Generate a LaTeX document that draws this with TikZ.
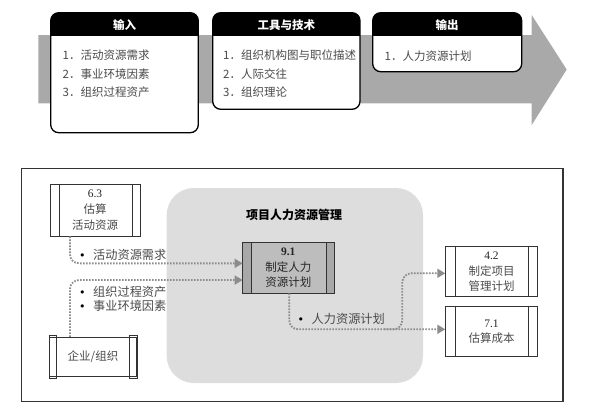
\documentclass[tikz,border=0pt]{standalone}
\usepackage{fontspec}
\setmainfont{Liberation Serif}
\newfontfamily\cjk{Noto Sans CJK SC}
\newfontfamily\sym{DejaVu Sans}
\usetikzlibrary{arrows.meta}
\definecolor{arrowgrey}{HTML}{A9A9A9}
\definecolor{regiongrey}{HTML}{DDDDDD}
\definecolor{linegrey}{HTML}{8C8C8C}
\definecolor{textgrey}{HTML}{4A4A4A}
\definecolor{procgrey}{HTML}{BDBDBD}
\definecolor{bargrey}{HTML}{A8A8A8}
\newcommand{\blt}{{\sym\fontsize{11}{13}\selectfont\textcolor{black}{•}}\hspace{7.5pt}}
\begin{document}
\begin{tikzpicture}[x=1pt,y=-1pt,
  topbox/.style={draw=black,line width=1.3pt,rounded corners=8pt},
  hdr/.style={text=white,font=\cjk\bfseries\fontsize{11.5}{13}\selectfont,inner sep=0pt},
  item/.style={text=textgrey,font=\cjk\fontsize{11.5}{13}\selectfont,inner sep=0pt,anchor=west},
  proc/.style={draw=black!80,line width=0.8pt,fill=white,inner sep=0pt,align=center,
     text=textgrey,font=\fontsize{11.5}{15.8}\selectfont},
  barline/.style={draw=black!80,line width=0.8pt},
  flow/.style={draw=linegrey,line width=1.8pt,dash pattern=on 1.6pt off 1.4pt,
     rounded corners=9pt,-{Triangle[length=8pt,width=9pt,fill=linegrey]}},
  lbl/.style={text=textgrey,font=\cjk\fontsize{12.2}{14}\selectfont,inner sep=0pt,anchor=west}
]
\useasboundingbox (0,0) rectangle (592,415);
% ---------- top: grey arrow ----------
\fill[arrowgrey] (38.3,35) -- (531.7,35) -- (531.7,15) -- (566.7,69.5) -- (531.7,125)
  -- (531.7,103.3) -- (38.3,103.3) -- cycle;
% input box
\begin{scope}
\clip[rounded corners=8pt] (50.7,12.7) rectangle (198.3,132.7);
\fill[white] (50.7,12.7) rectangle (198.3,132.7);
\fill[black] (50.7,12.7) rectangle (198.3,35.5);
\end{scope}
\draw[topbox] (50.7,12.7) rectangle (198.3,132.7);
% tools box
\begin{scope}
\clip[rounded corners=8pt] (212.7,12.7) rectangle (360,109.3);
\fill[white] (212.7,12.7) rectangle (360,109.3);
\fill[black] (212.7,12.7) rectangle (360,35.5);
\end{scope}
\draw[topbox] (212.7,12.7) rectangle (360,109.3);
% output box
\begin{scope}
\clip[rounded corners=8pt] (372.7,12.7) rectangle (521.7,71.7);
\fill[white] (372.7,12.7) rectangle (521.7,71.7);
\fill[black] (372.7,12.7) rectangle (521.7,35.5);
\end{scope}
\draw[topbox] (372.7,12.7) rectangle (521.7,71.7);
\node[hdr] (hin) at (124.5,25) {输入};
\node[hdr] (htool) at (286.3,25) {工具与技术};
\node[hdr] (hout) at (447.2,25) {输出};
\node[item] (in1) at (62.5,55) {1．活动资源需求};
\node[item] (in2) at (62.5,74.5) {2．事业环境因素};
\node[item] (in3) at (62.5,92.5) {3．组织过程资产};
\node[item] (tt1) at (223,55) {1．组织机构图与职位描述};
\node[item] (tt2) at (223,74.5) {2．人际交往};
\node[item] (tt3) at (223,92.5) {3．组织理论};
\node[item] (ot1) at (384.5,56) {1．人力资源计划};
% ---------- bottom ----------
\draw[draw=black!80,line width=1.2pt] (21.7,168.3) rectangle (563,401.7);
\fill[regiongrey,rounded corners=27pt] (166.7,188) rectangle (423,383);
\node[font=\cjk\bfseries\fontsize{12}{14}\selectfont,inner sep=0pt] (title) at (294,215) {项目人力资源管理};
% process boxes
\node[proc,minimum width=90pt,minimum height=52pt] (p63) at (95,210)
  {\textcolor{black!85}{6.3}\\{\cjk 估算}\\{\cjk 活动资源}};
\draw[barline] ([xshift=9.3pt]p63.north west) -- ([xshift=9.3pt]p63.south west);
\draw[barline] ([xshift=-8.5pt]p63.north east) -- ([xshift=-8.5pt]p63.south east);

\node[proc,minimum width=87.4pt,minimum height=38.7pt] (pent) at (93,356.7)
  {{\cjk 企业/组织}};
\draw[barline] ([xshift=7.4pt,yshift=2pt]pent.north west) rectangle ([yshift=-2pt]pent.south west);
\draw[barline] ([xshift=-7.4pt,yshift=2pt]pent.north east) rectangle ([yshift=-2pt]pent.south east);

\node[proc,fill=procgrey,text=black!85,minimum width=90.5pt,minimum height=50.5pt] (p91) at (288.25,267.75)
  {\textbf{9.1}\\{\cjk 制定人力}\\{\cjk 资源计划}};
\fill[bargrey] (p91.north west) rectangle ([xshift=8.5pt]p91.south west);
\fill[bargrey] ([xshift=-8pt]p91.north east) rectangle (p91.south east);
\draw[barline] (p91.north west) rectangle (p91.south east);
\draw[barline] ([xshift=8.5pt]p91.north west) -- ([xshift=8.5pt]p91.south west);
\draw[barline] ([xshift=-8pt]p91.north east) -- ([xshift=-8pt]p91.south east);

\node[proc,minimum width=91.6pt,minimum height=50pt] (p42) at (491.5,271.7)
  {\textcolor{black!85}{4.2}\\{\cjk 制定项目}\\{\cjk 管理计划}};
\draw[barline] ([xshift=10pt]p42.north west) -- ([xshift=10pt]p42.south west);
\draw[barline] ([xshift=-9pt]p42.north east) -- ([xshift=-9pt]p42.south east);

\node[proc,minimum width=91.6pt,minimum height=50pt] (p71) at (491.5,331.7)
  {\textcolor{black!85}{7.1}\\{\cjk 估算成本}};
\draw[barline] ([xshift=10pt]p71.north west) -- ([xshift=10pt]p71.south west);
\draw[barline] ([xshift=-9pt]p71.north east) -- ([xshift=-9pt]p71.south east);

% connectors
\draw[flow] ([xshift=-25pt]p63.south) |- ([yshift=4.4pt]p91.west);
\draw[flow] ([xshift=-23pt]pent.north) |- ([yshift=-12.3pt]p91.west);
\draw[flow] ([xshift=1pt]p91.south) |- ([yshift=2.4pt]p71.west);
\coordinate (split) at (384,329.3);
\draw[flow] (split) -| ([xshift=-43pt,yshift=-1.6pt]p42.west) -- ([yshift=-1.6pt]p42.west);
% labels
\node[lbl] (l1) at (79,255) {\blt 活动资源需求};
\node[lbl] (l2) at (79,291.7) {\blt 组织过程资产};
\node[lbl] (l3) at (79,305.7) {\blt 事业环境因素};
\node[lbl] (l4) at (297.5,319.3) {\blt 人力资源计划};
\end{tikzpicture}
\end{document}
